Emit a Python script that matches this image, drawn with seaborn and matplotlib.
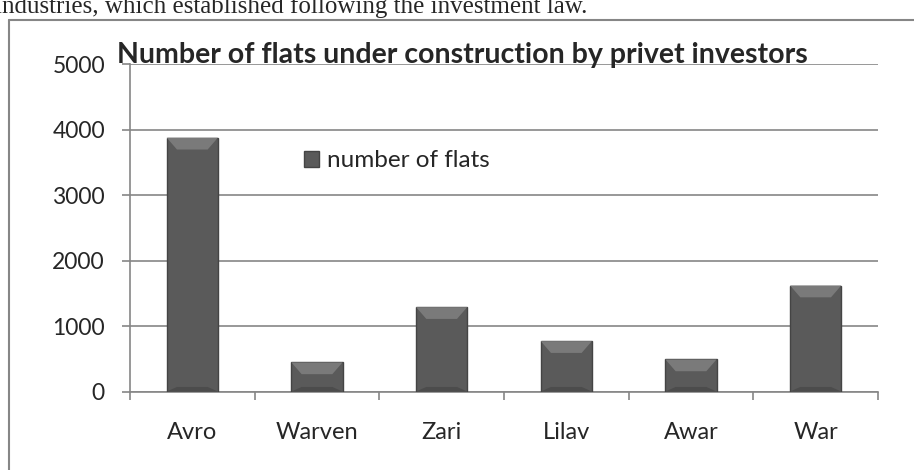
import matplotlib
matplotlib.use("Agg")
import matplotlib.pyplot as plt
import seaborn as sns
from matplotlib.lines import Line2D
from matplotlib.patches import Polygon

sites = ["Avro", "Warven", "Zari", "Lilav", "Awar", "War"]
flats = [3880, 445, 1290, 770, 490, 1620]
y_ticks = [0, 1000, 2000, 3000, 4000, 5000]

sns.set_theme(style="white")
plt.rcParams["font.family"] = ["Lato", "DejaVu Sans"]

fig = plt.figure(figsize=(9.14, 4.70), dpi=100)
ax = fig.add_axes([0.1422, 0.167, 0.8184, 0.6958])

grey = "#868686"
bar_col = "#5a5a5a"

sns.barplot(x=sites, y=flats, color=bar_col, width=0.41, saturation=1,
            edgecolor="#444444", linewidth=1.0, ax=ax, zorder=3)

# bevel look: lighter top cap, darker bottom cap, from each bar's own geometry
for p in list(ax.patches):
    x0, w, h = p.get_x(), p.get_width(), p.get_height()
    cap = 180
    inset = w * 0.2
    ax.add_patch(Polygon([(x0, h), (x0 + w, h), (x0 + w - inset, h - cap), (x0 + inset, h - cap)],
                         closed=True, facecolor="#7a7a7a", edgecolor="none", zorder=4))
    ax.add_patch(Polygon([(x0, 0), (x0 + w, 0), (x0 + w - inset, 70), (x0 + inset, 70)],
                         closed=True, facecolor="#4c4c4c", edgecolor="none", zorder=4))

ax.set_ylim(0, 5000)
ax.set_xlim(-0.5, len(sites) - 0.5)
ax.set_yticks(y_ticks)
ax.yaxis.grid(True, color=grey, linewidth=1.2)
ax.set_axisbelow(True)
for s in ["top", "right"]:
    ax.spines[s].set_visible(False)
for s in ["left", "bottom"]:
    ax.spines[s].set_color(grey)
    ax.spines[s].set_linewidth(1.2)

ax.tick_params(axis="y", length=6, width=1.2, color=grey, pad=12,
               labelsize=16.5, left=True, direction="out")
ax.tick_params(axis="x", which="major", length=0, pad=22, labelsize=17)
ax.set_xticks([i + 0.5 for i in range(-1, len(sites))], minor=True)
ax.tick_params(axis="x", which="minor", length=6, width=1.2, color=grey,
               bottom=True, direction="out")
ax.set_xlabel("")
ax.set_ylabel("")

ax.legend([ax.patches[0]], ["number of flats"], loc="center left",
          bbox_to_anchor=(0.232, 0.705), frameon=False, fontsize=17.5,
          handlelength=0.65, handleheight=0.65, handletextpad=0.3,
          borderpad=0, borderaxespad=0)

fig.text(462 / 914, 1 - 55 / 470, "Number of flats under construction by privet investors",
         ha="center", va="center", fontsize=20.5, fontweight="bold")

# chart frame (only the left and top edges fall inside the picture)
fig.add_artist(Line2D([9 / 914, 9 / 914], [0, 1 - 20 / 470], transform=fig.transFigure,
                      color=grey, linewidth=1.5))
fig.add_artist(Line2D([9 / 914, 1], [1 - 20 / 470, 1 - 20 / 470], transform=fig.transFigure,
                      color=grey, linewidth=1.5))

# clipped line of body text above the chart
fig.text(-0.006, 1 - 13 / 470, "industries, which established following the investment law.",
         ha="left", va="baseline", fontsize=18, family=["Liberation Serif", "DejaVu Serif"])

fig.savefig("out.png", dpi=100)
